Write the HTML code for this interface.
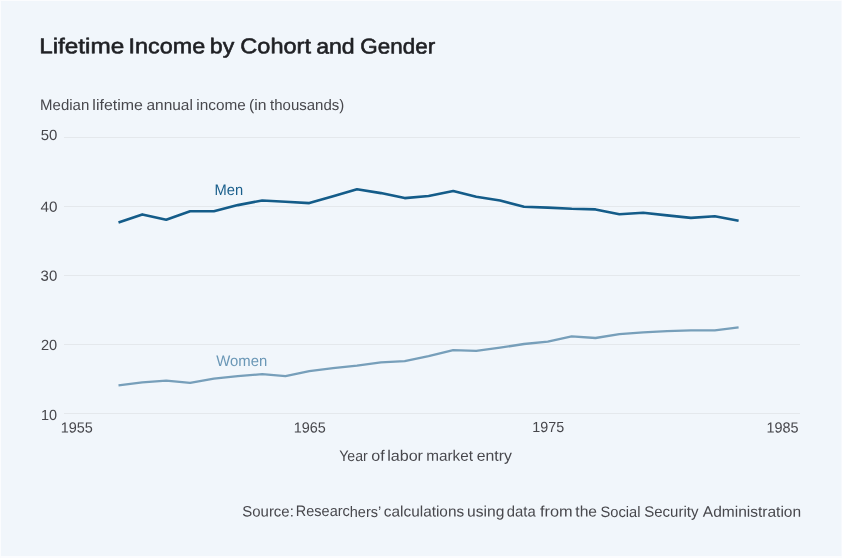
<!DOCTYPE html>
<html lang="en">
<head>
<meta charset="utf-8">
<title>Lifetime Income by Cohort and Gender</title>
<style>
html,body{margin:0;padding:0;background:#fff;}
body{width:842px;height:558px;overflow:hidden;font-family:"Liberation Sans",sans-serif;}
#chart{position:absolute;left:0;top:0;width:842px;height:558px;background:#fbfcfe;}
#chart .panel{position:absolute;left:1px;top:1px;right:0;bottom:2px;background:#f1f6fb;border-right:1px solid #f7f9fd;}
svg{position:absolute;left:0;top:0;display:block;}
svg text{font-family:"Liberation Sans",sans-serif;text-rendering:geometricPrecision;}
</style>
</head>
<body>
<div id="chart">
<div class="panel"></div>
<svg width="842" height="558" viewBox="0 0 842 558" role="img" aria-label="Lifetime Income by Cohort and Gender">
<rect x="64" y="137" width="736" height="1" fill="#e4e8ec"/>
<rect x="64" y="206" width="736" height="1" fill="#e4e8ec"/>
<rect x="64" y="275" width="736" height="1" fill="#e4e8ec"/>
<rect x="64" y="344" width="736" height="1" fill="#e4e8ec"/>
<rect x="64" y="413" width="736" height="1" fill="#e4e8ec"/>
<path d="M118.5,385.4 L142.3,382.4 L166.2,380.7 L190.1,382.9 L213.9,378.7 L237.8,376.2 L262.2,374.2 L285.5,376.2 L309.3,371.2 L333.1,368.2 L357.0,365.7 L380.9,362.4 L404.7,361.2 L428.6,356.2 L453.2,350.1 L476.2,350.9 L500.1,347.7 L524.0,344.0 L547.8,341.6 L571.7,336.3 L595.5,338.0 L619.4,334.2 L643.2,332.3 L667.1,331.2 L690.9,330.3 L714.8,330.3 L738.6,327.4" fill="none" stroke="#779fba" stroke-width="2.3" stroke-linejoin="round" stroke-linecap="butt"/>
<path d="M118.5,222.6 L142.3,214.4 L166.2,219.7 L190.1,211.3 L213.9,211.3 L237.8,205.1 L262.2,200.5 L285.5,201.8 L309.3,203.1 L333.1,196.3 L357.0,189.2 L380.9,193.1 L404.7,198.1 L428.6,196.0 L453.2,191.0 L476.2,196.8 L500.1,200.5 L524.0,206.8 L547.8,207.6 L571.7,208.8 L595.5,209.4 L619.4,214.3 L643.2,212.8 L667.1,215.4 L690.9,217.9 L714.8,216.2 L738.6,220.7" fill="none" stroke="#145c89" stroke-width="2.6" stroke-linejoin="round" stroke-linecap="butt"/>
<g transform="matrix(1,0.0005,0,1,0,0)">
<text y="53.23" font-size="21.4" fill="#1f2024" stroke="#1f2024" stroke-width="0.6" stroke-linejoin="round"><tspan x="39.16" textLength="85.05" lengthAdjust="spacingAndGlyphs">Lifetime</tspan> <tspan x="128.50" textLength="76.66" lengthAdjust="spacingAndGlyphs">Income</tspan> <tspan x="209.78" textLength="24.47" lengthAdjust="spacingAndGlyphs">by</tspan> <tspan x="240.32" textLength="70.65" lengthAdjust="spacingAndGlyphs">Cohort</tspan> <tspan x="316.18" textLength="38.51" lengthAdjust="spacingAndGlyphs">and</tspan> <tspan x="360.38" textLength="74.77" lengthAdjust="spacingAndGlyphs">Gender</tspan></text>
<text y="109.90" font-size="15.1" fill="#47474c"><tspan x="40.10" textLength="49.15" lengthAdjust="spacingAndGlyphs">Median</tspan> <tspan x="92.38" textLength="50.58" lengthAdjust="spacingAndGlyphs">lifetime</tspan> <tspan x="146.48" textLength="46.39" lengthAdjust="spacingAndGlyphs">annual</tspan> <tspan x="196.33" textLength="49.44" lengthAdjust="spacingAndGlyphs">income</tspan> <tspan x="248.96" textLength="17.40" lengthAdjust="spacingAndGlyphs">(in</tspan> <tspan x="270.10" textLength="74.17" lengthAdjust="spacingAndGlyphs">thousands)</tspan></text>
<text y="460.59" font-size="15.1" fill="#47474c"><tspan x="339.18" textLength="28.51" lengthAdjust="spacingAndGlyphs">Year</tspan> <tspan x="371.26" textLength="13.41" lengthAdjust="spacingAndGlyphs">of</tspan> <tspan x="387.17" textLength="35.85" lengthAdjust="spacingAndGlyphs">labor</tspan> <tspan x="426.33" textLength="46.66" lengthAdjust="spacingAndGlyphs">market</tspan> <tspan x="476.67" textLength="35.18" lengthAdjust="spacingAndGlyphs">entry</tspan></text>
<text y="516.34" font-size="15.1" fill="#47474c"><tspan x="242.25" textLength="51.59" lengthAdjust="spacingAndGlyphs">Source:</tspan> <tspan x="295.85" textLength="84.83" lengthAdjust="spacingAndGlyphs">Researchers’</tspan> <tspan x="383.89" textLength="80.25" lengthAdjust="spacingAndGlyphs">calculations</tspan> <tspan x="467.01" textLength="37.34" lengthAdjust="spacingAndGlyphs">using</tspan> <tspan x="506.81" textLength="28.84" lengthAdjust="spacingAndGlyphs">data</tspan> <tspan x="540.04" textLength="32.60" lengthAdjust="spacingAndGlyphs">from</tspan> <tspan x="575.29" textLength="21.74" lengthAdjust="spacingAndGlyphs">the</tspan> <tspan x="600.57" textLength="39.97" lengthAdjust="spacingAndGlyphs">Social</tspan> <tspan x="644.15" textLength="54.29" lengthAdjust="spacingAndGlyphs">Security</tspan> <tspan x="702.80" textLength="98.32" lengthAdjust="spacingAndGlyphs">Administration</tspan></text>
<text y="139.98" font-size="14.7" fill="#47474c"><tspan x="40.70" textLength="16.63" lengthAdjust="spacingAndGlyphs">50</tspan></text>
<text y="211.73" font-size="14.7" fill="#47474c"><tspan x="40.50" textLength="16.95" lengthAdjust="spacingAndGlyphs">40</tspan></text>
<text y="280.78" font-size="14.7" fill="#47474c"><tspan x="40.60" textLength="16.63" lengthAdjust="spacingAndGlyphs">30</tspan></text>
<text y="349.98" font-size="14.7" fill="#47474c"><tspan x="40.97" textLength="16.25" lengthAdjust="spacingAndGlyphs">20</tspan></text>
<text y="419.98" font-size="14.7" fill="#47474c"><tspan x="40.94" textLength="16.07" lengthAdjust="spacingAndGlyphs">10</tspan></text>
<text y="432.46" font-size="14.7" fill="#47474c"><tspan x="60.64" textLength="32.21" lengthAdjust="spacingAndGlyphs">1955</tspan></text>
<text y="432.35" font-size="14.7" fill="#47474c"><tspan x="293.65" textLength="32.10" lengthAdjust="spacingAndGlyphs">1965</tspan></text>
<text y="432.23" font-size="14.7" fill="#47474c"><tspan x="532.35" textLength="31.89" lengthAdjust="spacingAndGlyphs">1975</tspan></text>
<text y="432.11" font-size="14.7" fill="#47474c"><tspan x="766.45" textLength="32.10" lengthAdjust="spacingAndGlyphs">1985</tspan></text>
<text y="194.69" font-size="15.4" fill="#1a5f8c"><tspan x="214.52" textLength="28.64" lengthAdjust="spacingAndGlyphs">Men</tspan></text>
<text y="365.63" font-size="15.4" fill="#6a97b6"><tspan x="216.25" textLength="50.95" lengthAdjust="spacingAndGlyphs">Women</tspan></text>
</g>
</svg>
</div>
</body>
</html>
